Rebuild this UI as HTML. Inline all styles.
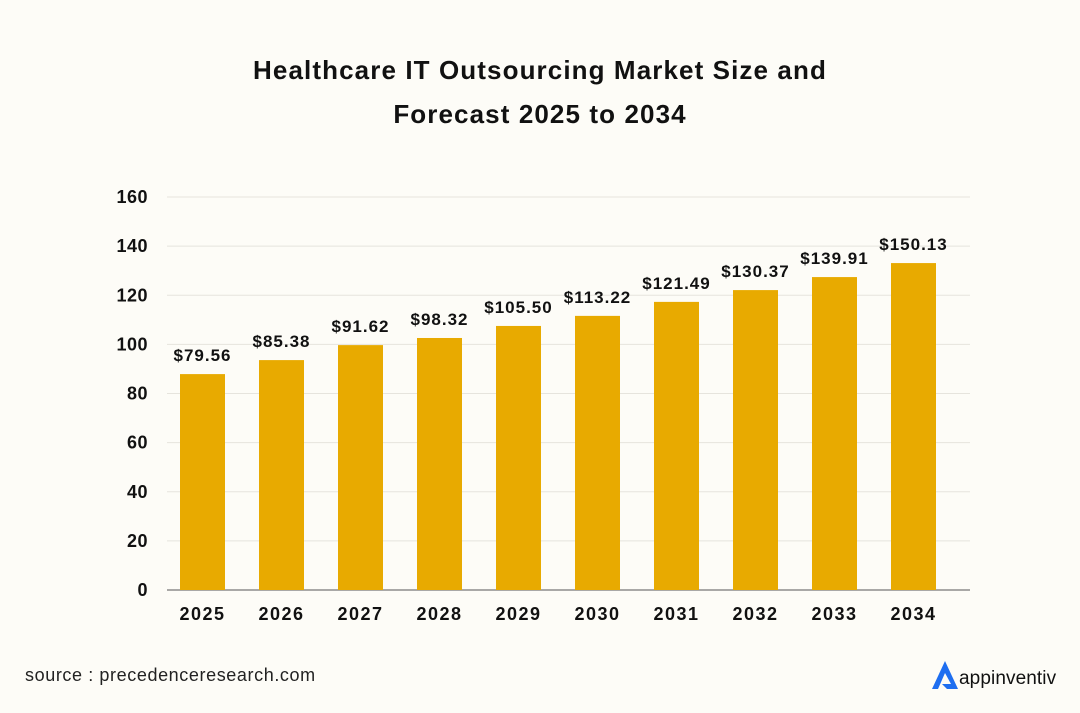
<!DOCTYPE html>
<html><head><meta charset="utf-8"><style>
body{margin:0;width:1080px;height:713px;background:#fdfcf7;font-family:"Liberation Sans",sans-serif;overflow:hidden}
svg{display:block}
</style></head><body>
<svg id="chart" width="1080" height="713">
<text x="540" y="79" text-anchor="middle" font-size="26" font-weight="bold" letter-spacing="1.1" fill="#111">Healthcare IT Outsourcing Market Size and</text>
<text x="540" y="123" text-anchor="middle" font-size="26" font-weight="bold" letter-spacing="1.1" fill="#111">Forecast 2025 to 2034</text>
<g id="grid"></g><g id="bars"></g>
<text x="25" y="681" font-size="18" letter-spacing="0.6" fill="#222">source : precedenceresearch.com</text>
<g>
<path d="M945 661 L932 689 L938 689 L945 673 L951 684 L942 684 L947 689 L958 689 Z" fill="#1e6ef0"/>
<text x="959" y="684" font-size="19" letter-spacing="0.1" fill="#111">appinventiv</text>
</g>
</svg>
<script>
const categories=["2025","2026","2027","2028","2029","2030","2031","2032","2033","2034"];
const barValues=[87.9,93.6,99.7,102.6,107.5,111.6,117.3,122.1,127.4,133.1];
const valueLabels=["$79.56","$85.38","$91.62","$98.32","$105.50","$113.22","$121.49","$130.37","$139.91","$150.13"];
const yTicks=[0,20,40,60,80,100,120,140,160];
const NS="http://www.w3.org/2000/svg";
const y0=590,yTop=197,yMax=160,step=79,bw=45;
const y=v=>y0-(y0-yTop)*v/yMax;
const x=i=>202.5+i*step;
function mk(t,a,p){const e=document.createElementNS(NS,t);for(const k in a)e.setAttribute(k,a[k]);p.appendChild(e);return e;}
const grid=document.getElementById('grid'),bars=document.getElementById('bars');
yTicks.forEach(t=>{
 const l=mk('line',{x1:167,x2:970,y1:y(t),y2:y(t),stroke:t===0?'#555':'#e6e4dd','stroke-width':1},grid);
 
 
 const tx=mk('text',{x:148,y:y(t)+6,'text-anchor':'end','font-size':18,'font-weight':'bold','letter-spacing':0.5,fill:'#111'},grid);
 tx.textContent=t;
 
 
});
categories.forEach((c,i)=>{
 const r=mk('rect',{x:x(i)-bw/2,y:y(barValues[i]),width:bw,height:y0-y(barValues[i]),fill:'#e8aa00'},bars);
 
 
 const lb=mk('text',{x:x(i),y:y(barValues[i])-13,'text-anchor':'middle','font-size':17,'letter-spacing':1,fill:'#111','font-weight':'bold'},bars);
 lb.textContent=valueLabels[i];
 
 
 const xl=mk('text',{x:x(i),y:620,'text-anchor':'middle','font-size':18,'letter-spacing':1.5,'font-weight':'bold',fill:'#111'},bars);
 xl.textContent=c;
 
 
});
</script>
</body></html>
